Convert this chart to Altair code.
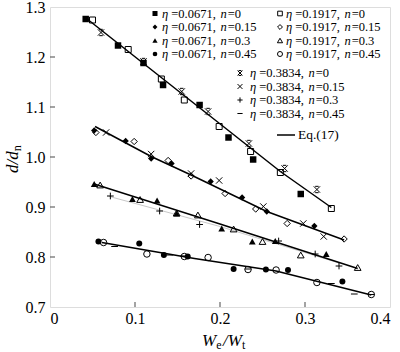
import altair as alt
import pandas as pd

# ---------------- data ----------------
# eta=0.0671, n=0 (filled square)
sqf_x = [0.042, 0.080, 0.110, 0.133, 0.176, 0.210, 0.239, 0.295]
sqf_y = [1.276, 1.223, 1.188, 1.144, 1.104, 1.039, 0.995, 0.926]
# eta=0.1917, n=0 (open square)
sqo_x = [0.050, 0.092, 0.131, 0.158, 0.199, 0.236, 0.271, 0.331]
sqo_y = [1.274, 1.215, 1.156, 1.114, 1.061, 1.011, 0.969, 0.897]
# eta=0.3834, n=0 (asterisk)
ast_x = [0.060, 0.110, 0.155, 0.186, 0.234, 0.276, 0.314]
ast_y = [1.249, 1.191, 1.131, 1.091, 1.027, 0.977, 0.935]
# eta=0.0671, n=0.15 (filled diamond)
dif_x = [0.052, 0.089, 0.119, 0.143, 0.189, 0.226, 0.255, 0.311]
dif_y = [1.053, 1.032, 0.997, 0.987, 0.951, 0.919, 0.891, 0.862]
# eta=0.1917, n=0.15 (open diamond)
dio_x = [0.054, 0.099, 0.139, 0.166, 0.206, 0.242, 0.279, 0.346]
dio_y = [1.049, 1.031, 0.993, 0.962, 0.927, 0.896, 0.867, 0.836]
# eta=0.3834, n=0.15 (x)
xx_x = [0.066, 0.119, 0.166, 0.199, 0.251, 0.298, 0.322]
xx_y = [1.049, 1.006, 0.967, 0.953, 0.901, 0.867, 0.841]
# eta=0.0671, n=0.3 (filled triangle)
trf_x = [0.052, 0.097, 0.126, 0.149, 0.202, 0.238, 0.265, 0.325]
trf_y = [0.946, 0.916, 0.913, 0.887, 0.857, 0.831, 0.832, 0.806]
# eta=0.1917, n=0.3 (open triangle)
tro_x = [0.059, 0.106, 0.149, 0.174, 0.216, 0.250, 0.295, 0.362]
tro_y = [0.944, 0.915, 0.888, 0.884, 0.856, 0.831, 0.804, 0.779]
# eta=0.3834, n=0.3 (plus)
pl_x = [0.071, 0.129, 0.176, 0.269, 0.312, 0.340]
pl_y = [0.922, 0.892, 0.865, 0.832, 0.806, 0.782]
# eta=0.0671, n=0.45 (filled circle)
cif_x = [0.057, 0.105, 0.134, 0.162, 0.216, 0.254, 0.280, 0.344]
cif_y = [0.831, 0.827, 0.804, 0.801, 0.776, 0.775, 0.774, 0.751]
# eta=0.1917, n=0.45 (open circle)
cio_x = [0.063, 0.114, 0.158, 0.186, 0.233, 0.266, 0.314, 0.378]
cio_y = [0.829, 0.806, 0.801, 0.799, 0.775, 0.774, 0.749, 0.725]
# eta=0.3834, n=0.45 (dash)
da_x = [0.076, 0.141, 0.157, 0.233, 0.331, 0.358, 0.378]
da_y = [0.821, 0.804, 0.802, 0.776, 0.747, 0.726, 0.725]

# Eq.(17) curves
eq0_x = [0.043, 0.110, 0.271, 0.331]
eq0_y = [1.277, 1.187, 0.971, 0.899]
eq15_x = [0.053, 0.119, 0.166, 0.255, 0.346]
eq15_y = [1.061, 1.001, 0.964, 0.891, 0.834]
eq30_x = [0.052, 0.200, 0.362]
eq30_y = [0.946, 0.866, 0.777]
eq45_x = [0.061, 0.170, 0.266, 0.378]
eq45_y = [0.829, 0.797, 0.772, 0.724]
# light grey fit line
gr_x = [0.070, 0.200, 0.340]
gr_y = [0.921, 0.861, 0.788]

x_ticks = [0.0, 0.1, 0.2, 0.3, 0.4]
y_ticks = [0.7, 0.8, 0.9, 1.0, 1.1, 1.2, 1.3]

# ---------------- layout ----------------
W, H = 340, 300
FONT = "Liberation Serif"

xsc = alt.Scale(domain=[0, 0.4], nice=False, zero=False)
ysc = alt.Scale(domain=[0.7, 1.3], nice=False, zero=False)
xax = alt.Axis(values=x_ticks, title=None, grid=False, ticks=False, domain=False,
               labelExpr="datum.value == 0 ? '0' : format(datum.value, '.1f')",
               labelFont=FONT, labelFontSize=16, labelColor="black", labelPadding=3)
yax = alt.Axis(values=y_ticks, title=None, grid=False, ticks=False, domain=False,
               format=".1f", labelFont=FONT, labelFontSize=16, labelColor="black",
               labelPadding=5)


def X(field="x"):
    return alt.X(f"{field}:Q", scale=xsc, axis=xax)


def Y(field="y"):
    return alt.Y(f"{field}:Q", scale=ysc, axis=yax)


layers = []

# fitted lines
line_rows = []
for k, (lx, ly) in enumerate([(eq0_x, eq0_y), (eq15_x, eq15_y), (eq30_x, eq30_y), (eq45_x, eq45_y)]):
    for a, b in zip(lx, ly):
        line_rows.append({"x": a, "y": b, "id": k})
layers.append(alt.Chart(pd.DataFrame({"x": gr_x, "y": gr_y})).mark_line(
    color="#c8c8c8", strokeWidth=1).encode(x=X(), y=Y()))
layers.append(alt.Chart(pd.DataFrame(line_rows)).mark_line(
    color="black", strokeWidth=1.5).encode(x=X(), y=Y(), detail="id:N"))

P_AST = "M-1,-1L1,1M1,-1L-1,1M-0.55,-1L0.55,-1M-0.55,1L0.55,1"
P_X = "M-1,-1L1,1M1,-1L-1,1"
P_PLUS = "M-1,0L1,0M0,-1L0,1"
P_DASH = "M-1,0L1,0"

styles = {
    "sqf": dict(shape="square", filled=True, size=42),
    "sqo": dict(shape="square", filled=False, size=36),
    "ast": dict(shape=P_AST, filled=False, size=40),
    "dif": dict(shape="diamond", filled=True, size=40),
    "dio": dict(shape="diamond", filled=False, size=40),
    "xx": dict(shape=P_X, filled=False, size=40),
    "trf": dict(shape="triangle-up", filled=True, size=45),
    "tro": dict(shape="triangle-up", filled=False, size=45),
    "pl": dict(shape=P_PLUS, filled=False, size=45),
    "cif": dict(shape="circle", filled=True, size=36),
    "cio": dict(shape="circle", filled=False, size=42),
    "da": dict(shape=P_DASH, filled=False, size=45),
}
series = {
    "sqf": (sqf_x, sqf_y), "sqo": (sqo_x, sqo_y), "ast": (ast_x, ast_y),
    "dif": (dif_x, dif_y), "dio": (dio_x, dio_y), "xx": (xx_x, xx_y),
    "trf": (trf_x, trf_y), "tro": (tro_x, tro_y), "pl": (pl_x, pl_y),
    "cif": (cif_x, cif_y), "cio": (cio_x, cio_y), "da": (da_x, da_y),
}
for key, (sx, sy) in series.items():
    st = styles[key]
    layers.append(alt.Chart(pd.DataFrame({"x": sx, "y": sy})).mark_point(
        shape=st["shape"], filled=st["filled"], size=st["size"], color="black",
        strokeWidth=1, opacity=1).encode(x=X(), y=Y()))

# inward ticks
layers.append(alt.Chart(pd.DataFrame({"x": x_ticks[1:-1]})).mark_rule(
    color="#666", strokeWidth=1.2).encode(x=X(), y=alt.value(H), y2=alt.value(H - 5)))
layers.append(alt.Chart(pd.DataFrame({"y": y_ticks[1:-1]})).mark_rule(
    color="#666", strokeWidth=1.2).encode(y=Y(), x=alt.value(0), x2=alt.value(5)))

# ---------------- legend ----------------
REG = {"0": .5, "1": .5, "2": .5, "3": .5, "4": .5, "5": .5, "6": .5, "7": .5, "8": .5, "9": .5,
       ".": .25, ",": .25, " ": .25, "=": .564, "(": .333, ")": .333, "E": .611, "q": .5}


def width(s, size):
    return sum(REG.get(c, .5) for c in s) * size


def text_at(x, y, s, size, italic=False, angle=0, baseline="middle"):
    kw = dict(text=s, font=FONT, fontSize=size, color="black", align="left", baseline=baseline)
    if italic:
        kw["fontStyle"] = "italic"
    if angle:
        kw["angle"] = angle
    return alt.Chart(pd.DataFrame({"a": [0]})).mark_text(**kw).encode(
        x=alt.value(x), y=alt.value(y))


LF = 12.5


def entry(mx, tx, y, key, eta, n):
    out = []
    st = styles[key]
    out.append(alt.Chart(pd.DataFrame({"a": [0]})).mark_point(
        shape=st["shape"], filled=st["filled"], size=st["size"] * 0.6, color="black",
        strokeWidth=1, opacity=1).encode(x=alt.value(mx), y=alt.value(y)))
    x = tx
    out.append(text_at(x, y, "\u03b7", LF, italic=True))
    x += 0.5 * LF + 3
    s1 = "=" + eta + ","
    out.append(text_at(x, y, s1, LF))
    x += width(s1, LF) + 0.25 * LF + 1.5
    out.append(text_at(x, y, "n", LF, italic=True))
    x += 0.5 * LF + 1
    out.append(text_at(x, y, "=" + n, LF))
    return out


rows_a = [6.5, 20, 33.5, 47]
ns = ["0", "0.15", "0.3", "0.45"]
for i, (k1, k2) in enumerate([("sqf", "sqo"), ("dif", "dio"), ("trf", "tro"), ("cif", "cio")]):
    layers += entry(105, 112, rows_a[i], k1, "0.0671", ns[i])
    layers += entry(230, 236, rows_a[i], k2, "0.1917", ns[i])
rows_b = [66, 79.5, 93, 106.5]
for i, k in enumerate(["ast", "xx", "pl", "da"]):
    layers += entry(190, 200, rows_b[i], k, "0.3834", ns[i])
layers.append(alt.Chart(pd.DataFrame({"a": [0]})).mark_rule(color="black", strokeWidth=1.5).encode(
    x=alt.value(227), x2=alt.value(245), y=alt.value(128)))
layers.append(text_at(248, 128, "Eq.(17)", 13.5))

# ---------------- axis titles ----------------
TF = 17
SF = 12
xt = 152
layers.append(text_at(xt, 339, "W", TF, italic=True, baseline="alphabetic"))
xt += 0.833 * TF
layers.append(text_at(xt, 342, "e", SF, baseline="alphabetic"))
xt += 0.444 * SF + 1.5
layers.append(text_at(xt, 339, "/W", TF, italic=True, baseline="alphabetic"))
xt += (0.278 + 0.833) * TF
layers.append(text_at(xt, 342, "t", SF, baseline="alphabetic"))

yt = 166
layers.append(text_at(-32, yt, "d/d", TF, italic=True, angle=270, baseline="alphabetic"))
yt -= (0.5 + 0.278 + 0.5) * TF
layers.append(text_at(-29, yt, "n", SF, angle=270, baseline="alphabetic"))

chart = alt.layer(*layers).properties(
    width=W, height=H,
    autosize=alt.AutoSizeParams(type="none"),
    padding={"left": 50, "top": 7, "right": 10, "bottom": 45},
).configure_view(stroke="#666", strokeWidth=1.5).configure(background="white")

chart.save("out.html", embed_options={"renderer": "svg", "actions": False})
